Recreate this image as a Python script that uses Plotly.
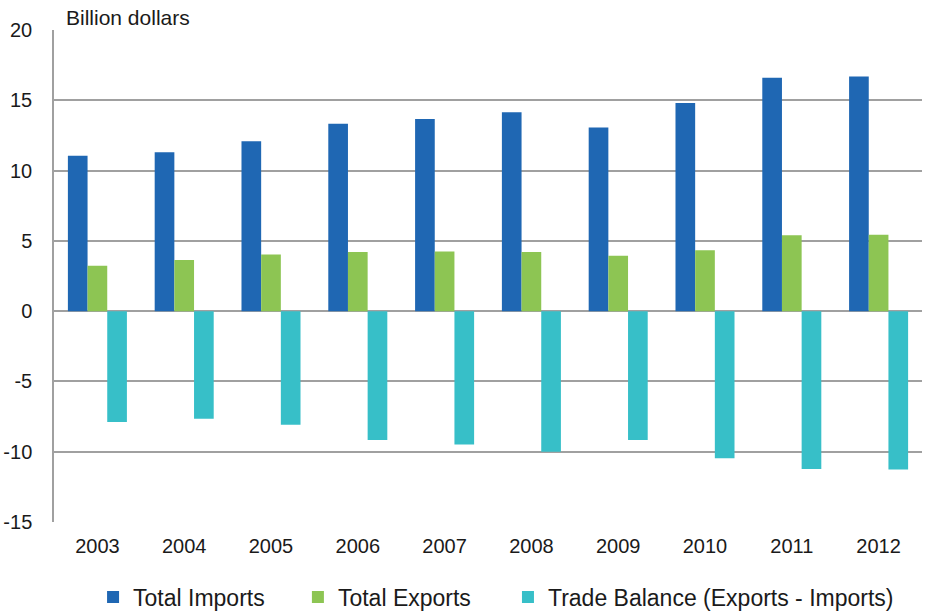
import plotly.graph_objects as go

years = ["2003", "2004", "2005", "2006", "2007", "2008", "2009", "2010", "2011", "2012"]
imports = [11.05, 11.3, 12.08, 13.33, 13.67, 14.14, 13.07, 14.8, 16.6, 16.7]
exports = [3.23, 3.63, 4.03, 4.2, 4.25, 4.2, 3.94, 4.34, 5.39, 5.43]
balance = [-7.89, -7.65, -8.08, -9.17, -9.48, -10.0, -9.17, -10.47, -11.23, -11.26]

ytick_vals = [-15, -10, -5, 0, 5, 10, 15, 20]
ytick_text = ["-15", "-10", "-5", "0", "5", "10", "15", "20"]

names = ["Total Imports", "Total Exports", "Trade Balance (Exports - Imports)"]
colors = ["#1f67b3", "#8dc553", "#37bfc8"]
legend_ids = ["legend", "legend2", "legend3"]
legend_x = [0.045, 0.281, 0.523]

fig = go.Figure()
for name, vals, col, lid in zip(names, [imports, exports, balance], colors, legend_ids):
    fig.add_trace(go.Bar(x=years, y=vals, name=name, legend=lid,
                         marker=dict(color=col, line=dict(width=0))))

W, H = 927, 615
legend_layout = {}
for lid, lx in zip(legend_ids, legend_x):
    legend_layout[lid] = dict(xref="paper", yref="container", x=lx, xanchor="left",
                              y=(H - 597) / H, yanchor="middle", font=dict(size=23),
                              itemwidth=30, bgcolor="rgba(0,0,0,0)")

fig.update_layout(
    width=W, height=H,
    margin=dict(l=54, r=5, t=30, b=93, autoexpand=False),
    plot_bgcolor="white", paper_bgcolor="white",
    font=dict(family="Liberation Sans, Arial, sans-serif", size=20, color="#1a1a1a"),
    barmode="group", bargap=0.32, bargroupgap=0,
    showlegend=True,
    xaxis=dict(showgrid=False, showline=False, ticks="", ticklabelstandoff=10,
               tickfont=dict(size=20), automargin=False),
    yaxis=dict(range=[-15, 20], tickvals=ytick_vals, ticktext=ytick_text,
               showgrid=True, gridcolor="#a0a0a0", gridwidth=1.5,
               zeroline=True, zerolinecolor="#a0a0a0", zerolinewidth=1.5,
               showline=True, linecolor="#a0a0a0", linewidth=1.5,
               ticks="", ticklabelstandoff=16, tickfont=dict(size=20), automargin=False),
    annotations=[dict(text="Billion dollars", xref="paper", yref="paper", x=0.012, y=1.0,
                      xanchor="left", yanchor="bottom", showarrow=False,
                      font=dict(size=21), yshift=-1)],
    **legend_layout,
)

fig.write_html("out.html", config={"displayModeBar": False},
               post_script="document.body.style.margin='0';")
